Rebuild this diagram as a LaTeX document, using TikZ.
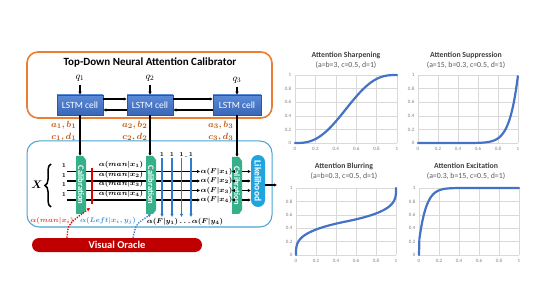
\documentclass[tikz,border=0pt]{standalone}
\usepackage{fontspec}
\setmainfont{Carlito}
\usepackage{bm}
\usetikzlibrary{arrows.meta,decorations.pathreplacing}
\definecolor{orB}{HTML}{ED7D31}
\definecolor{blB}{HTML}{4BA3D6}
\definecolor{lsT}{HTML}{5A8AD8}
\definecolor{lsD}{HTML}{3A66B6}
\definecolor{lsE}{HTML}{2F5597}
\definecolor{calG}{HTML}{35B08A}
\definecolor{likB}{HTML}{1EA5E0}
\definecolor{oraR}{HTML}{C00000}
\definecolor{orT}{HTML}{C55A11}
\definecolor{redL}{HTML}{E00000}
\definecolor{bluA}{HTML}{2E7BCF}
\definecolor{redT}{HTML}{E0473C}
\definecolor{bluT}{HTML}{4A8FD0}
\definecolor{curveC}{HTML}{4472C4}
\definecolor{gridC}{HTML}{D9D9D9}
\definecolor{tickC}{HTML}{808080}
\definecolor{titC}{HTML}{404040}
\definecolor{subC}{HTML}{595959}
\newcommand\fsz[1]{\fontsize{#1}{#1}\selectfont}
\newcommand\mygrid{%
  \foreach \g/\lbl in {0/0,0.2/0.2,0.4/0.4,0.6/0.6,0.8/0.8,1/1}{%
    \draw[gridC,line width=0.5pt] (\g,0) -- (\g,1);
    \draw[gridC,line width=0.5pt] (0,\g) -- (1,\g);
    \node[tick,anchor=east] at (-0.03,\g) {\lbl};
    \node[tick,anchor=north] at (\g,-0.05) {\lbl};}}
\begin{document}
\begin{tikzpicture}[x=1pt,y=-1pt,
  arr/.style={-{Triangle[length=3pt,width=2.8pt]},line width=1.1pt},
  xl/.style={line width=1.1pt},
  barr/.style={draw=bluA,-{Triangle[length=3pt,width=2.8pt]},line width=1.2pt},
  lstm/.style={draw=lsE,line width=0.5pt,top color=lsT,bottom color=lsD,text=white,font=\fsz{9.5},minimum height=20pt,inner sep=0pt},
  cal/.style={fill=white,minimum width=10pt,minimum height=58pt,inner sep=0pt,text=white,font=\bfseries\fsz{8.5},
    path picture={\fill[calG] (path picture bounding box.north west) -- ([xshift=-3pt]path picture bounding box.north east) -- ([yshift=-4pt]path picture bounding box.north east) -- ([yshift=4pt]path picture bounding box.south east) -- ([xshift=-3pt]path picture bounding box.south east) -- (path picture bounding box.south west) -- cycle;}},
  lik/.style={fill=likB,rounded corners=7pt,minimum width=14pt,minimum height=52pt,inner sep=0pt,text=white,font=\bfseries\fsz{9.5}},
  abl/.style={text=orT,font=\fsz{9.5},inner sep=0.5pt},
  onel/.style={font=\fsz{6.5},inner sep=0.5pt},
  manl/.style={font=\fsz{7.2},inner sep=0.5pt},
  fxl/.style={font=\fsz{7},inner sep=0.4pt},
  reddot/.style={draw=redL,line width=1.3pt,dash pattern=on 1.3pt off 1.3pt,-{Triangle[length=3pt,width=3pt]}},
  bluedot/.style={draw=bluA,line width=1.3pt,dash pattern=on 1.3pt off 1.3pt,-{Triangle[length=3pt,width=3pt]}},
  tick/.style={font=\fsz{5},text=tickC,inner sep=0.5pt},
  ctitle/.style={font=\bfseries\fsz{7.8},text=titC,inner sep=0pt},
  csub/.style={font=\fsz{7.8},text=subC,inner sep=0pt},
  curve/.style={draw=curveC,line width=2.2pt,line join=round,line cap=round}]
\useasboundingbox (0,0) rectangle (540,304);
\fill[white] (0,0) rectangle (540,304);
% ---------- top-down calibrator ----------
\node[draw=orB,line width=1.6pt,rounded corners=11pt,minimum width=245pt,minimum height=66pt] (tdb) at (149.5,85) {};
\node[font=\bfseries\fsz{11}] (ttl) at (150,63) {Top-Down Neural Attention Calibrator};
\node[lstm,minimum width=46pt] (l1) at (80,105) {LSTM cell};
\node[lstm,minimum width=46pt] (l2) at (150,105) {LSTM cell};
\node[lstm,minimum width=48pt] (l3) at (237,105) {LSTM cell};
\node[font=\fsz{10}] (q1) at (80,78) {$q_1$};
\node[font=\fsz{10}] (q2) at (150,78) {$q_2$};
\node[font=\fsz{10}] (q3) at (237,80) {$q_3$};
\draw[arr] (q1) -- (l1);
\draw[arr] (q2) -- (l2);
\draw[arr] (q3) -- (l3);
\draw[arr] ([yshift=6pt]l1.east) -- ([yshift=6pt]l2.west);
\draw[arr] ([yshift=-5pt]l2.west) -- ([yshift=-5pt]l1.east);
\draw[arr] ([yshift=6pt]l2.east) -- ([yshift=6pt]l3.west);
\draw[arr] ([yshift=-5pt]l3.west) -- ([yshift=-5pt]l2.east);
\node[abl,anchor=east] (ab1) at (77,125) {$\bm{a_1,b_1}$};
\node[abl,anchor=east] (cd1) at (77,137) {$\bm{c_1,d_1}$};
\node[abl,anchor=east] (ab2) at (148,125) {$\bm{a_2,b_2}$};
\node[abl,anchor=east] (cd2) at (148,137) {$\bm{c_2,d_2}$};
\node[abl,anchor=east] (ab3) at (234,125) {$\bm{a_3,b_3}$};
\node[abl,anchor=east] (cd3) at (234,137) {$\bm{c_3,d_3}$};
% ---------- bottom-up part ----------
\node[draw=blB,line width=1pt,rounded corners=12pt,minimum width=245pt,minimum height=86pt] (bb) at (149.5,184) {};
\node[cal] (c2) at (151,185) {\rotatebox{-90}{Calibration}};
\node[cal,minimum height=57pt] (c3) at (237,185.5) {\rotatebox{-90}{Calibration}};
\node[lik] (lik) at (258,181) {\rotatebox{-90}{Likelihood}};
\foreach \i/\yy in {1/171.5,2/181,3/190.5,4/200}{
  \coordinate (s\i) at (67,\yy);
  \node[fxl] (fx\i) at (216.5,\yy) {$\bm{\alpha(F|x_\i)}$};
  \node[onel] (o\i) at (64,{\yy-5.5}) {$\bm{1}$};
  \node[manl] (m\i) at (121,{\yy-6.5}) {$\bm{\alpha(man|x_\i)}$};
}
\foreach \i in {1,...,4}{
  \draw[xl] (s\i) -- (s\i -| c2.west);
  \draw[arr] (s\i -| c2.east) -- (fx\i.west);
  \draw[arr] (fx\i.east) -- (fx\i.east -| c3.west);
  \draw[arr] (s\i -| c3.east) -- (s\i -| lik.west);
}
\foreach \j/\xx in {1/162,2/172,3/181.5,4/191}{
  \node[onel] (u\j) at (\xx,155) {$\bm{1}$};
  \coordinate (bt\j) at (\xx,217);
  \draw[barr] (u\j) -- (bt\j);
}
\node[font=\bfseries\fsz{5},inner sep=0pt] (udots) at (186.3,157) {..};
\node[cal] (c1) at (81,185) {\rotatebox{-90}{Calibration}};
\draw[arr] (l1.south) -- (l1.south |- c1.north);
\draw[arr] (l2.south) -- (l2.south |- c2.north);
\draw[arr] (l3.south) -- (l3.south |- c3.north);
\coordinate (ra) at (92,168);
\coordinate (rb) at (92,204);
\draw[redL,line width=1.5pt] (ra) -- (rb);
\coordinate (out) at (277,185);
\draw[arr] (lik.east |- out) -- (out);
\coordinate (br1) at (51,207);
\coordinate (br2) at (51,164);
\draw[decorate,decoration={brace,amplitude=6pt},line width=1.5pt] (br1) -- (br2);
\node[font=\fsz{11}] (X) at (37,185) {$\bm{X}$};
\node[font=\fsz{7},text=redT,inner sep=0.5pt] (lm) at (52,221) {$\bm{\alpha(man|x_i)}$};
\node[font=\fsz{7.3},text=bluT,inner sep=0.5pt] (lb) at (108,221) {$\bm{\alpha(Left|x_i,y_j)}$};
\node[font=\fsz{6.8},inner sep=0.5pt] (lf) at (185,222) {$\bm{\alpha(F|y_1)\ldots\alpha(F|y_4)}$};
\node[fill=oraR,rounded corners=7pt,minimum width=170pt,minimum height=14pt,inner sep=0pt,text=white,font=\bfseries\fsz{10.5}] (vo) at (117,245) {Visual Oracle};
\coordinate (rt) at (90,208);
\draw[reddot] ([xshift=-50pt]vo.north) .. controls (68,224) .. (rt);
\draw[bluedot] ([xshift=16pt]vo.north) .. controls (136,224) .. (c2.south);
% ---------- charts ----------
\node[ctitle] (t1) at (346,55) {Attention Sharpening};
\node[csub] (st1) at (346,65) {(a=b=3, c=0.5, d=1)};
\node[ctitle] (t2) at (466,55) {Attention Suppression};
\node[csub] (st2) at (466,65) {(a=15, b=0.3, c=0.5, d=1)};
\node[ctitle] (t3) at (344,166) {Attention Blurring};
\node[csub] (st3) at (344,176) {(a=b=0.3, c=0.5, d=1)};
\node[ctitle] (t4) at (466,166) {Attention Excitation};
\node[csub] (st4) at (466,176) {(a=0.3, b=15, c=0.5, d=1)};
\begin{scope}[shift={(295,143)},x=102pt,y=68pt]
  \mygrid
  \draw[curve] plot[domain=0:1,samples=60] (\x,{10*\x^3-15*\x^4+6*\x^5});
\end{scope}
\begin{scope}[shift={(418,143)},x=100pt,y=68pt]
  \mygrid
  \draw[curve] plot[domain=0:1,samples=100] (\x,{\x^12});
\end{scope}
\begin{scope}[shift={(296,255)},x=100pt,y=67pt]
  \mygrid
  \draw[curve] (0,0) -- plot[domain=0.01:1,samples=60,variable=\u] ({0.5*\u^3.3333},{0.5*\u}) -- plot[domain=1:0.01,samples=60,variable=\u] ({1-0.5*\u^3.3333},{1-0.5*\u}) -- (1,1);
\end{scope}
\begin{scope}[shift={(419,255)},x=100pt,y=67pt]
  \mygrid
  \draw[curve] (0,0) -- plot[domain=0.004:1,samples=100] (\x,{1-0.8*(1-\x)^14});
\end{scope}
\end{tikzpicture}
\end{document}
